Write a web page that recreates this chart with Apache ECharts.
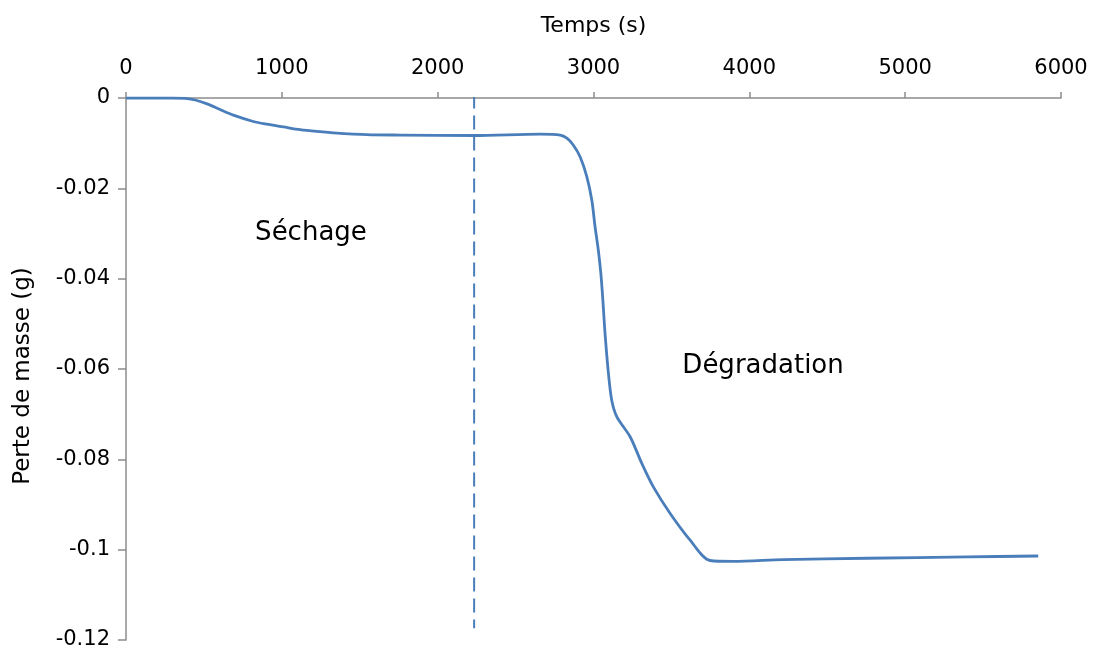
<!DOCTYPE html>
<html>
<head>
<meta charset="utf-8">
<script src="https://cdn.jsdelivr.net/npm/echarts@6/dist/echarts.min.js"></script>
<style>
html,body{margin:0;padding:0;background:#fff;overflow:hidden;}
#chart{width:1093px;height:651px;}
</style>
</head>
<body>
<div id="chart"></div>
<script>
// Temps (s)
const timeValues = [0, 300, 380, 450, 520, 600, 689, 817, 903, 1010, 1117, 1224, 1331, 1545, 1759, 2234, 2657, 2786, 2829, 2870, 2914, 2957, 2989, 3010, 3031, 3047, 3060, 3074, 3096, 3117, 3150, 3235, 3310, 3384, 3492, 3620, 3748, 3896, 4217, 4756, 5398, 5854];
// Perte de masse (g)
const massLoss = [0, 0, -0.0001, -0.0005, -0.0013, -0.0025, -0.0038, -0.0052, -0.0058, -0.0064, -0.0070, -0.0074, -0.0077, -0.0081, -0.0082, -0.0083, -0.0080, -0.0082, -0.0089, -0.0104, -0.0130, -0.0174, -0.0226, -0.0285, -0.0337, -0.0388, -0.0447, -0.0521, -0.0610, -0.0669, -0.0706, -0.0750, -0.0809, -0.0861, -0.0920, -0.0979, -0.1024, -0.1026, -0.1022, -0.1019, -0.1016, -0.1014];
// Dashed separator between phases
const separatorX = [2234, 2234];
const separatorY = [0.0008, -0.1174];
// Annotations
const phaseLabels = ['Séchage', 'Dégradation'];
const phaseLabelX = [1187, 4088];
const phaseLabelY = [-0.0299, -0.0594];

const xTicks = [0, 6000, 1000];
const yTicks = [-0.12, 0, 0.02];

const FONT = 'DejaVu Sans';
const chart = echarts.init(document.getElementById('chart'));
const lineColor = '#4a7ebb';
const axisColor = '#8c8c8c';

chart.setOption({
  animation: false,
  backgroundColor: '#fff',
  grid: {left: 126, right: 32, top: 98, bottom: 11, containLabel: false, outerBoundsMode: 'none'},
  xAxis: {
    type: 'value', position: 'top', min: xTicks[0], max: xTicks[1], interval: xTicks[2],
    name: 'Temps (s)', nameLocation: 'middle', nameGap: 61,
    nameTextStyle: {fontFamily: FONT, fontSize: 22, color: '#000'},
    axisLine: {show: true, onZero: true, lineStyle: {color: axisColor, width: 1.5}},
    axisTick: {show: true, length: 6, lineStyle: {color: axisColor, width: 1.5}},
    axisLabel: {fontFamily: FONT, fontSize: 21, color: '#000', margin: 19,
      formatter: v => String(v)},
    splitLine: {show: false}
  },
  yAxis: {
    type: 'value', min: yTicks[0], max: yTicks[1], interval: yTicks[2],
    name: 'Perte de masse (g)', nameLocation: 'middle', nameGap: 91, nameRotate: 90,
    nameTextStyle: {fontFamily: FONT, fontSize: 23, color: '#000', padding: [0, 14, 0, 0]},
    axisLine: {show: true, onZero: false, lineStyle: {color: axisColor, width: 1.5}},
    axisTick: {show: true, length: 8, lineStyle: {color: axisColor, width: 1.5}},
    axisLabel: {fontFamily: FONT, fontSize: 21, color: '#000', margin: 16,
      formatter: v => (Math.abs(v) < 1e-9 ? '0' : String(+v.toFixed(2)))},
    splitLine: {show: false}
  },
  series: [
    {
      type: 'line', smooth: 0.3, symbol: 'none',
      data: timeValues.map((t, i) => [t, massLoss[i]]),
      lineStyle: {color: lineColor, width: 2.8}
    },
    {
      type: 'line', symbol: 'none',
      data: separatorX.map((t, i) => [t, separatorY[i]]),
      lineStyle: {color: lineColor, width: 2, type: [14, 7]}
    }
  ]
});

chart.setOption({
  graphic: phaseLabels.map((txt, i) => {
    const p = chart.convertToPixel({gridIndex: 0}, [phaseLabelX[i], phaseLabelY[i]]);
    return {
      type: 'text', x: p[0], y: p[1], silent: true,
      style: {text: txt, fill: '#000', font: '26px "DejaVu Sans"', align: 'center', verticalAlign: 'middle'}
    };
  })
});
</script>
</body>
</html>
